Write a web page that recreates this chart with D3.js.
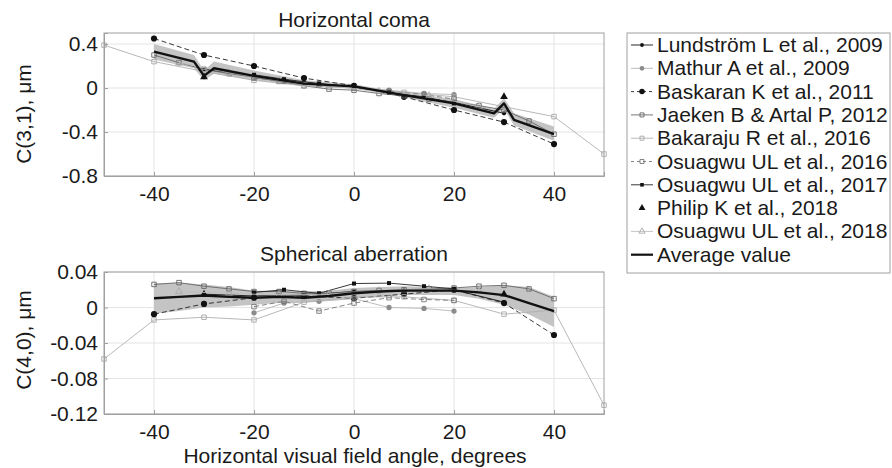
<!DOCTYPE html>
<html>
<head>
<meta charset="utf-8">
<script src="https://cdn.jsdelivr.net/npm/d3@7"></script>
<style>
  body { margin: 0; background: #fff; }
  text { font-family: "Liberation Sans", Arial, Helvetica, sans-serif; fill: #1a1a1a; }
</style>
</head>
<body>
<script>
const width = 892;
const height = 468;

// tick labels
const xTicks = [-40, -20, 0, 20, 40];
const comaTicks = [0.4, 0, -0.4, -0.8];
const saTicks = [0.04, 0, -0.04, -0.08, -0.12];

// studies: field angles, horizontal coma C(3,1) and spherical aberration C(4,0)
const lundstromX = [-30, -20, -10, 0, 10, 20, 30];
const lundstromComa = [0.17, 0.11, 0.05, 0.01, -0.06, -0.13, -0.23];
const lundstromSA = [0.015, 0.013, 0.014, 0.018, 0.019, 0.020, 0.006];

const mathurX = [-20, -14, -7, 0, 7, 14, 20];
const mathurComa = [0.10, 0.07, 0.04, 0.01, -0.02, -0.05, -0.06];
const mathurSA = [-0.006, 0.005, 0.007, 0.010, 0.0, -0.001, -0.004];

const baskaranX = [-40, -30, -20, -10, 0, 10, 20, 30, 40];
const baskaranComa = [0.45, 0.30, 0.20, 0.09, 0.02, -0.08, -0.20, -0.31, -0.51];
const baskaranSA = [-0.0075, 0.004, 0.011, 0.013, 0.0105, 0.015, 0.020, 0.005, -0.031];

const jaekenX = [-40, -35, -30, -25, -20, -15, -10, -5, 0, 5, 10, 15, 20, 25, 30, 35, 40];
const jaekenComa = [0.30, 0.23, 0.17, 0.13, 0.10, 0.06, 0.02, -0.01, -0.02, -0.05, -0.07, -0.10, -0.13, -0.16, -0.20, -0.30, -0.42];
const jaekenSA = [0.026, 0.028, 0.024, 0.021, 0.018, 0.018, 0.016, 0.016, 0.018, 0.019, 0.020, 0.021, 0.022, 0.024, 0.025, 0.021, 0.010];

const bakarajuX = [-50, -40, -30, -20, -10, 0, 10, 20, 30, 40, 50];
const bakarajuComa = [0.39, 0.24, 0.15, 0.07, 0.02, 0.0, -0.04, -0.08, -0.17, -0.26, -0.60];
const bakarajuSA = [-0.058, -0.014, -0.011, -0.014, 0.006, 0.012, 0.012, 0.008, -0.0075, -0.003, -0.11];

const osuagwu16X = [-20, -14, -7, 0, 7, 14, 20];
const osuagwu16Coma = [0.09, 0.06, 0.03, 0.0, -0.03, -0.06, -0.10];
const osuagwu16SA = [0.001, 0.007, -0.004, 0.005, 0.011, 0.009, 0.008];

const osuagwu17X = [-20, -14, -7, 0, 7, 14, 20];
const osuagwu17Coma = [0.12, 0.08, 0.04, 0.01, -0.04, -0.08, -0.14];
const osuagwu17SA = [0.017, 0.020, 0.016, 0.027, 0.0275, 0.024, 0.021];

const philipX = [-30, 30];
const philipComa = [0.10, -0.08];
const philipSA = [0.015, 0.015];

const osuagwu18X = [-35, -25, -15, -5, 5, 15, 25];
const osuagwu18Coma = [0.23, 0.14, 0.07, 0.02, -0.03, -0.07, -0.17];
const osuagwu18SA = [0.018, 0.016, 0.014, 0.015, 0.019, 0.021, 0.018];

// average value and its shaded spread
const avgComaX = [-40, -32, -30, -28, -20, -10, 0, 10, 20, 28, 30, 32, 40];
const avgComa = [0.33, 0.24, 0.11, 0.18, 0.11, 0.04, 0.015, -0.065, -0.14, -0.23, -0.14, -0.29, -0.42];
const avgComaHi = [0.40, 0.30, 0.16, 0.24, 0.16, 0.07, 0.035, -0.045, -0.10, -0.19, -0.09, -0.23, -0.35];
const avgComaLo = [0.26, 0.18, 0.07, 0.13, 0.07, 0.02, -0.005, -0.085, -0.18, -0.27, -0.19, -0.34, -0.48];

const avgSAX = [-40, -35, -30, -25, -20, -15, -10, -5, 0, 5, 10, 15, 20, 25, 30, 35, 40];
const avgSA = [0.0105, 0.012, 0.0135, 0.012, 0.011, 0.012, 0.011, 0.013, 0.016, 0.018, 0.019, 0.019, 0.019, 0.017, 0.014, 0.005, -0.004];
const avgSAHi = [0.027, 0.028, 0.026, 0.023, 0.019, 0.019, 0.018, 0.019, 0.022, 0.023, 0.024, 0.023, 0.022, 0.023, 0.025, 0.023, 0.012];
const avgSALo = [-0.007, -0.004, 0.0, 0.001, 0.003, 0.005, 0.006, 0.008, 0.010, 0.012, 0.014, 0.014, 0.014, 0.010, 0.003, -0.008, -0.022];

const studies = [
  { name: 'Lundström L et al., 2009', x: lundstromX, coma: lundstromComa, sa: lundstromSA,
    line: '#111', dash: null, sym: d3.symbolCircle, size: 14, fill: '#111', stroke: 'none' },
  { name: 'Mathur A et al., 2009', x: mathurX, coma: mathurComa, sa: mathurSA,
    line: '#b5b5b5', dash: null, sym: d3.symbolCircle, size: 22, fill: '#8c8c8c', stroke: 'none' },
  { name: 'Baskaran K et al., 2011', x: baskaranX, coma: baskaranComa, sa: baskaranSA,
    line: '#222', dash: '5,3', sym: d3.symbolCircle, size: 30, fill: '#111', stroke: 'none' },
  { name: 'Jaeken B & Artal P, 2012', x: jaekenX, coma: jaekenComa, sa: jaekenSA,
    line: '#666', dash: null, sym: d3.symbolSquare, size: 20, fill: 'none', stroke: '#666' },
  { name: 'Bakaraju R et al., 2016', x: bakarajuX, coma: bakarajuComa, sa: bakarajuSA,
    line: '#b0b0b0', dash: null, sym: d3.symbolSquare, size: 20, fill: 'none', stroke: '#a8a8a8' },
  { name: 'Osuagwu UL et al., 2016', x: osuagwu16X, coma: osuagwu16Coma, sa: osuagwu16SA,
    line: '#777', dash: '5,3', sym: d3.symbolSquare, size: 20, fill: 'none', stroke: '#777' },
  { name: 'Osuagwu UL et al., 2017', x: osuagwu17X, coma: osuagwu17Coma, sa: osuagwu17SA,
    line: '#222', dash: null, sym: d3.symbolSquare, size: 16, fill: '#111', stroke: 'none' },
  { name: 'Philip K et al., 2018', x: philipX, coma: philipComa, sa: philipSA,
    line: null, dash: null, sym: d3.symbolTriangle, size: 26, fill: '#111', stroke: 'none' },
  { name: 'Osuagwu UL et al., 2018', x: osuagwu18X, coma: osuagwu18Coma, sa: osuagwu18SA,
    line: '#bdbdbd', dash: null, sym: d3.symbolTriangle, size: 20, fill: 'none', stroke: '#aaa' }
];

const fontSize = '21px';
const svg = d3.select('body').append('svg').attr('width', width).attr('height', height);

const x = d3.scaleLinear().domain([-50, 50]).range([104, 604]);

// matlab style labels with a plain hyphen as minus sign
const fmt = d => String(d).replace('\u2212', '-');

function panel(opts) {
  const y = d3.scaleLinear().domain(opts.domain).range([opts.bottom, opts.top]);
  const g = svg.append('g');

  // grid
  g.selectAll('.vgrid').data(xTicks).enter().append('line')
    .attr('x1', d => x(d)).attr('x2', d => x(d))
    .attr('y1', opts.top).attr('y2', opts.bottom)
    .attr('stroke', '#e4e4e4').attr('stroke-width', 1);
  g.selectAll('.hgrid').data(opts.ticks).enter().append('line')
    .attr('x1', 104).attr('x2', 604)
    .attr('y1', d => y(d)).attr('y2', d => y(d))
    .attr('stroke', '#e4e4e4').attr('stroke-width', 1);

  // shaded spread
  const band = opts.avgX.map((v, i) => ({ x: v, lo: opts.lo[i], hi: opts.hi[i] }));
  g.append('path').datum(band)
    .attr('fill', '#c4c4c4').attr('stroke', 'none')
    .attr('d', d3.area().x(d => x(d.x)).y0(d => y(d.lo)).y1(d => y(d.hi)));

  const line = d3.line().x(d => x(d.x)).y(d => y(d.y));

  studies.forEach(s => {
    const pts = s.x.map((v, i) => ({ x: v, y: s[opts.key][i] }));
    if (s.line) {
      g.append('path').datum(pts)
        .attr('fill', 'none').attr('stroke', s.line).attr('stroke-width', 0.9)
        .attr('stroke-dasharray', s.dash)
        .attr('d', line);
    }
    g.selectAll(null).data(pts).enter().append('path')
      .attr('transform', d => `translate(${x(d.x)},${y(d.y)})`)
      .attr('d', d3.symbol().type(s.sym).size(s.size))
      .attr('fill', s.fill).attr('stroke', s.stroke).attr('stroke-width', 0.9);
  });

  // average value
  const avgPts = opts.avgX.map((v, i) => ({ x: v, y: opts.avg[i] }));
  g.append('path').datum(avgPts)
    .attr('fill', 'none').attr('stroke', '#111').attr('stroke-width', 2.4)
    .attr('stroke-linejoin', 'round')
    .attr('d', line);

  // axes
  const yAxis = g.append('g').attr('transform', 'translate(104,0)')
    .call(d3.axisLeft(y).tickValues(opts.ticks).tickFormat(d => d === 0 ? '0' : fmt(d)).tickSize(-4).tickPadding(6));
  const xAxis = g.append('g').attr('transform', `translate(0,${opts.bottom})`)
    .call(d3.axisBottom(x).tickValues(xTicks).tickFormat(fmt).tickSize(-4).tickPadding(10));
  [yAxis, xAxis].forEach(a => {
    a.select('.domain').attr('stroke', '#a0a0a0');
    a.selectAll('.tick line').attr('stroke', '#a0a0a0');
    a.selectAll('.tick text').style('font-size', fontSize).attr('fill', '#1a1a1a')
      .style('font-family', '"Liberation Sans", Arial, sans-serif');
  });
  g.append('rect')
    .attr('x', 104).attr('y', opts.top).attr('width', 500).attr('height', opts.bottom - opts.top)
    .attr('fill', 'none').attr('stroke', '#a0a0a0');

  g.append('text').attr('x', 354).attr('y', opts.titleY)
    .attr('text-anchor', 'middle').style('font-size', fontSize).text(opts.title);
  g.append('text')
    .attr('transform', `translate(31,${opts.labelY}) rotate(-90)`)
    .attr('text-anchor', 'middle').style('font-size', fontSize).text(opts.ylabel);
}

panel({ key: 'coma', domain: [-0.8, 0.5], top: 33, bottom: 176, ticks: comaTicks,
  avgX: avgComaX, avg: avgComa, hi: avgComaHi, lo: avgComaLo,
  title: 'Horizontal coma', titleY: 27, ylabel: 'C(3,1), μm', labelY: 114 });

panel({ key: 'sa', domain: [-0.12, 0.04], top: 272, bottom: 414, ticks: saTicks,
  avgX: avgSAX, avg: avgSA, hi: avgSAHi, lo: avgSALo,
  title: 'Spherical aberration', titleY: 261, ylabel: 'C(4,0), μm', labelY: 340 });

svg.append('text').attr('x', 355).attr('y', 463)
  .attr('text-anchor', 'middle').style('font-size', fontSize)
  .text('Horizontal visual field angle, degrees');

// legend
const legend = svg.append('g');
legend.append('rect').attr('x', 627).attr('y', 33).attr('width', 263).attr('height', 240)
  .attr('fill', '#fff').attr('stroke', '#a0a0a0');
const items = studies.concat([{ name: 'Average value', line: '#111', avg: true }]);
items.forEach((s, i) => {
  const cy = 45 + i * 23.3;
  if (s.line) {
    legend.append('line').attr('x1', 631).attr('x2', 653).attr('y1', cy).attr('y2', cy)
      .attr('stroke', s.line).attr('stroke-width', s.avg ? 2.2 : 0.9)
      .attr('stroke-dasharray', s.dash ? '3,3' : null);
  }
  if (s.sym) {
    legend.append('path').attr('transform', `translate(642,${cy})`)
      .attr('d', d3.symbol().type(s.sym).size(s.size * 0.8))
      .attr('fill', s.fill).attr('stroke', s.stroke).attr('stroke-width', 0.9);
  }
  legend.append('text').attr('x', 657).attr('y', cy + 7).style('font-size', fontSize).text(s.name);
});
</script>
</body>
</html>
